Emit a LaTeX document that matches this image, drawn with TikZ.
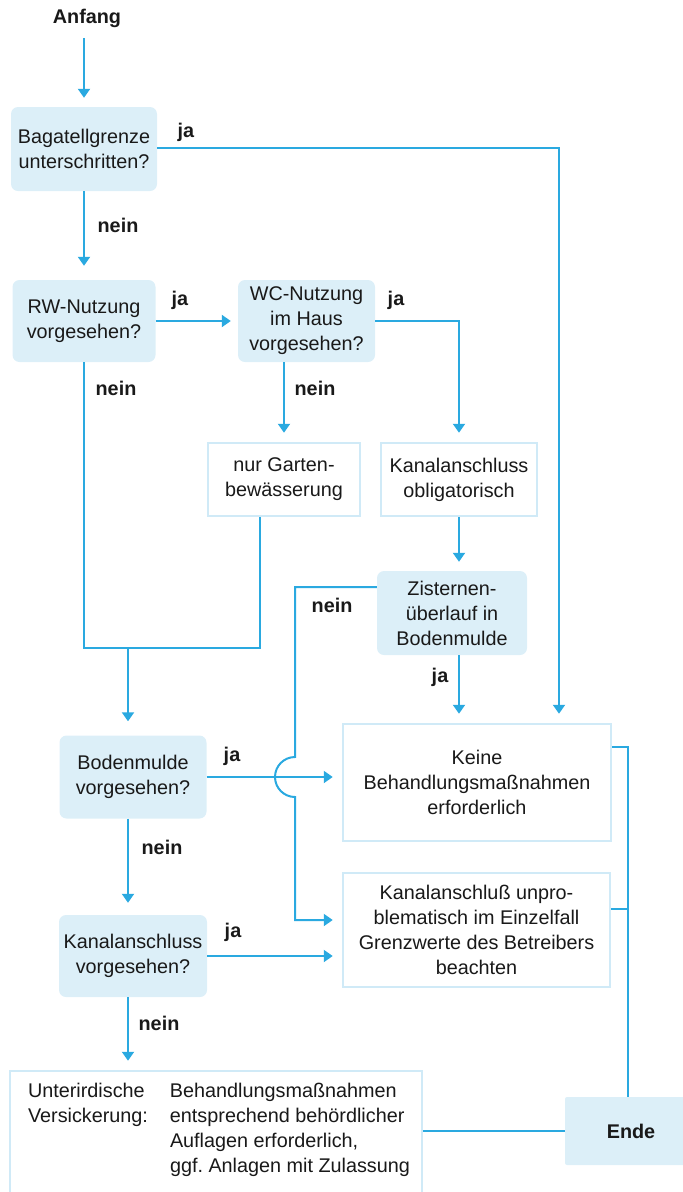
\documentclass[tikz,border=0pt]{standalone}
\usepackage{fontspec}
\setmainfont{Liberation Sans}
\usetikzlibrary{arrows.meta}
\definecolor{lc}{RGB}{42,169,224}
\definecolor{fillb}{RGB}{220,239,248}
\definecolor{edgeb}{RGB}{208,234,247}
\definecolor{txt}{RGB}{25,25,25}
\frenchspacing
\begin{document}
\begin{tikzpicture}[x=1pt,y=-1pt,
  every node/.style={font=\fontsize{19.8}{25}\selectfont, text=txt},
  dec/.style={fill=fillb, rounded corners=7pt, align=center, inner sep=0pt},
  outbox/.style={draw=edgeb, line width=2.5pt, fill=white, align=center, inner sep=0pt},
  lbl/.style={font=\fontsize{19.8}{25}\selectfont\bfseries},
  conn/.style={draw=lc, line width=2pt},
  arr/.style={conn, -{Triangle[width=12pt,length=9pt]}, shorten >=9pt},
]
\useasboundingbox (0,0) rectangle (683,1192);

% boxes
\node[lbl] (anfang) at (87,18) {Anfang};
\node[dec, minimum width=146pt, minimum height=84pt] (bag) at (84,149) {Bagatellgrenze\\unterschritten?};
\node[dec, minimum width=143pt, minimum height=82pt] (rw) at (84,321) {RW-Nutzung\\vorgesehen?};
\node[dec, minimum width=137pt, minimum height=82pt] (wc) at (306.5,321) {WC-Nutzung\\im Haus\\vorgesehen?};
\node[outbox, minimum width=152pt, minimum height=73pt] (garten) at (284,479.5) {nur Garten-\\bewässerung};
\node[outbox, minimum width=156pt, minimum height=73pt] (kobl) at (459,479.5) {Kanalanschluss\\obligatorisch};
\node[dec, minimum width=150pt, minimum height=84pt] (zist) at (452,613) {Zisternen-\\überlauf in\\Bodenmulde};
\node[dec, minimum width=147pt, minimum height=83pt] (bm) at (133,777) {Bodenmulde\\vorgesehen?};
\node[outbox, minimum width=268pt, minimum height=117pt] (keine) at (477,782.5) {Keine\\Behandlungsmaßnahmen\\erforderlich};
\node[outbox, minimum width=267pt, minimum height=114pt] (kunp) at (476.5,930) {Kanalanschluß unpro-\\blematisch im Einzelfall\\Grenzwerte des Betreibers\\beachten};
\node[dec, minimum width=148pt, minimum height=82pt] (kv) at (133,956) {Kanalanschluss\\vorgesehen?};
\node[outbox, minimum width=412pt, minimum height=130pt] (unter) at (216,1136) {};
\node (untert) at (219,1130) {\begin{tabular}{@{}l@{\hspace{22pt}}l@{}}Unterirdische & Behandlungsmaßnahmen\\ Versickerung: & entsprechend behördlicher\\ & Auflagen erforderlich,\\ & ggf. Anlagen mit Zulassung\end{tabular}};
\node[dec, rounded corners=2pt, minimum width=132pt, minimum height=68pt, lbl] (ende) at (631,1131) {Ende};

% labels
\node[lbl] (ja1) at (186,132) {ja};
\node[lbl] (nein1) at (118,225) {nein};
\node[lbl] (ja2) at (180,300) {ja};
\node[lbl] (ja3) at (396,300) {ja};
\node[lbl] (nein2) at (116,388) {nein};
\node[lbl] (nein3) at (315,388) {nein};
\node[lbl] (nein4) at (332,605) {nein};
\node[lbl] (ja4) at (440,677) {ja};
\node[lbl] (ja5) at (232,756) {ja};
\node[lbl] (nein5) at (162,847) {nein};
\node[lbl] (ja6) at (233,932) {ja};
\node[lbl] (nein6) at (159,1023) {nein};

% coordinates
\coordinate (bagR) at (559,148);
\coordinate (wcR) at (459,321);
\coordinate (mL) at (84,648);
\coordinate (mR) at (260,648);
\coordinate (mM) at (128,648);
\coordinate (zL) at (295,587);
\coordinate (hopT) at (295,757);
\coordinate (zB) at (295,920);
\coordinate (rT) at (628,747);
\coordinate (rMid) at (628,909);

% connectors
\draw[arr, shorten <=7pt] (anfang.south -| bag.north) -- (bag.north);
\draw[arr] (bag.east |- bagR) -- (bagR) -- (bagR |- keine.north);
\draw[arr, shorten >=14pt] (bag.south) -- (rw.north);
\draw[arr, shorten >=7pt] (rw.east) -- (wc.west);
\draw[arr] (wc.east) -- (wcR) -- (kobl.north);
\draw[arr] (wc.south -| garten.north) -- (garten.north);
\draw[conn] (rw.south) -- (mL) -- (mR) -- (mR |- garten.south);
\draw[arr, shorten >=14pt] (mM) -- (mM |- bm.north);
\draw[arr] (kobl.south) -- (kobl.south |- zist.north);
\draw[arr] (kobl.south |- zist.south) -- (kobl.south |- keine.north);
\draw[arr] (zist.west |- zL) -- (zL) -- (hopT) arc[start angle=90, end angle=270, radius=20pt] -- (zB) -- (kunp.west |- zB);
\draw[arr] (bm.east) -- (keine.west |- bm.east);
\draw[arr, shorten >=12pt] (bm.south -| mM) -- (kv.north -| mM);
\draw[arr] (kv.east) -- (kunp.west |- kv.east);
\draw[arr] (kv.south -| mM) -- (unter.north -| mM);
\draw[conn] (keine.east |- rT) -- (rT) -- (rT |- ende.north);
\draw[conn] (kunp.east |- rMid) -- (rMid);
\draw[conn] (unter.east |- ende.west) -- (ende.west);
\end{tikzpicture}
\end{document}
